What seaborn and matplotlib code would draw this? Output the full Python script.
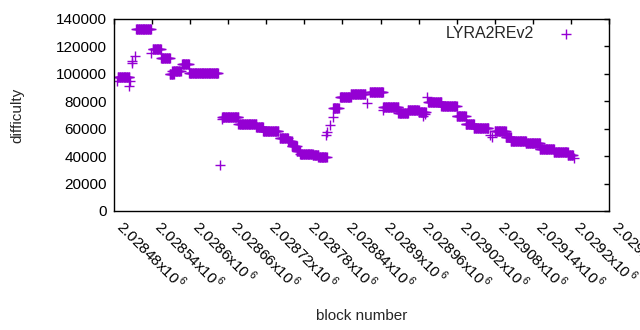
import numpy as np
import pandas as pd
import matplotlib
matplotlib.use("Agg")
import matplotlib.pyplot as plt
import matplotlib.transforms as mtransforms
import seaborn as sns

# block numbers are offsets from base
base = 2028480

# runs of (nearly) constant difficulty: first block offset, last block offset, difficulty
seg_start = [6, 35, 61, 74, 88, 92, 107, 118, 170, 196, 224, 235, 261, 274, 280, 288, 293, 313, 322,
             345, 356, 373, 403, 424, 448, 463, 480, 495, 516, 540, 554, 567, 600, 617, 625, 649, 671,
             693, 715]
seg_end = [24, 58, 74, 88, 94, 105, 118, 164, 196, 224, 235, 259, 274, 280, 288, 293, 313, 322, 335,
           354, 373, 396, 424, 448, 463, 480, 491, 516, 540, 554, 567, 590, 617, 625, 649, 671, 693,
           715, 723]
seg_diff = [97500, 132500, 118000, 111600, 100000, 101800, 107000, 100400, 68200, 63400, 61000, 58300,
            53400, 51000, 47500, 44000, 41800, 40600, 39300, 74900, 83100, 85000, 86500, 75500, 71800,
            73300, 72000, 79800, 76300, 69000, 63400, 60200, 58100, 54000, 50800, 49400, 45000, 42800,
            40500]

# isolated blocks
single_off = [4, 24, 26, 28, 29, 33, 58, 167, 170, 334, 335, 341, 345, 399, 424, 487, 490, 494, 592,
              596, 725]
single_diff = [95000, 91000, 95000, 107700, 109600, 113000, 115500, 33500, 67000, 55400, 57800, 62700,
               68800, 78700, 73600, 69500, 70500, 83400, 55500, 54000, 38400]

tick_labels = ["2.02848", "2.02854", "2.0286", "2.02866", "2.02872", "2.02878", "2.02884", "2.0289",
               "2.02896", "2.02902", "2.02908", "2.02914", "2.0292", "2.02926"]

blocks = []
diffs = []
for s, e, d in zip(seg_start, seg_end, seg_diff):
    for b in range(s, e + 1):
        blocks.append(base + b)
        diffs.append(d)
for b, d in zip(single_off, single_diff):
    blocks.append(base + b)
    diffs.append(d)
df = pd.DataFrame({"block": blocks, "difficulty": diffs})

sns.set_style("white")
plt.rcParams["font.family"] = ["Liberation Sans", "DejaVu Sans"]
plt.rcParams["mathtext.fontset"] = "custom"
plt.rcParams["mathtext.rm"] = "Liberation Sans"
plt.rcParams["font.size"] = 11

fig = plt.figure(figsize=(6.4, 3.3), dpi=100)
ax = fig.add_axes([114 / 640, 1 - 211 / 330, 495 / 640, 192 / 330])

sns.scatterplot(data=df, x="block", y="difficulty", marker="+", color="#9400d3",
                s=42, linewidth=1, label="LYRA2REv2", ax=ax)

ax.set_xlim(base, base + 780)
ax.set_ylim(0, 140000)
xt = [base + 60 * i for i in range(len(tick_labels))]
ax.set_xticks(xt)
ax.set_xticklabels([t + r"x10$^{\,6}$" for t in tick_labels], rotation=-45, ha="left", va="center",
                   rotation_mode="anchor")
ax.set_yticks(range(0, 140001, 20000))
ax.tick_params(direction="in", length=3.5, width=1, top=True, right=True, colors="black",
               labelsize=11, pad=5)
ax.tick_params(axis="x", pad=9)
shift = mtransforms.ScaledTranslation(6 / 100, 0, fig.dpi_scale_trans)
for lab in ax.get_xticklabels():
    lab.set_transform(lab.get_transform() + shift)
for sp in ax.spines.values():
    sp.set_color("black")
    sp.set_linewidth(1)

ax.set_xlabel("block number", fontsize=11)
ax.set_ylabel("difficulty", fontsize=11)
ax.xaxis.set_label_coords(0.5, -0.51)
ax.yaxis.set_label_coords(-0.182, 0.5)

leg = ax.legend(loc="upper right", bbox_to_anchor=(0.945, 0.965), frameon=False, markerfirst=False,
                borderaxespad=0, borderpad=0, handletextpad=1.0, fontsize=11.5, scatterpoints=1)

fig.savefig("out.png", dpi=100)
